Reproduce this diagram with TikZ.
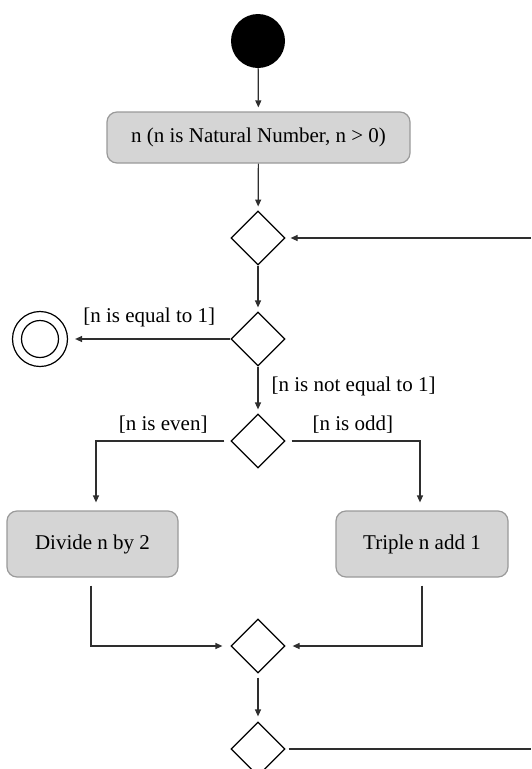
\documentclass[tikz,border=0pt]{standalone}
\usepackage{fontspec}
\setmainfont{Liberation Serif}
\usetikzlibrary{shapes.geometric,arrows.meta}
\definecolor{boxfill}{HTML}{D5D5D5}
\definecolor{boxline}{HTML}{9A9A9A}
\definecolor{flow}{HTML}{2E2E2E}
\begin{document}
\begin{tikzpicture}[x=1pt,y=-1pt,
  every node/.style={font=\fontsize{21}{25}\selectfont},
  action/.style={draw=boxline, fill=boxfill, rounded corners=10pt, line width=1.2pt, inner sep=0pt},
  choice/.style={diamond, draw=black, line width=1.2pt, minimum width=54pt, minimum height=54pt, inner sep=0pt, aspect=1},
  flowline/.style={draw=flow, line width=1.2pt},
  arr/.style={flowline, -{Triangle[length=7pt,width=6pt]}, shorten >=4pt},
  guard/.style={inner sep=0pt}
]
\useasboundingbox (0,0) rectangle (531,769);
\clip (0,0) rectangle (531,769);

% activity nodes
\node[circle, fill=black, minimum size=54pt, inner sep=0pt] (start) at (258,41) {};
\node[action, minimum width=303pt, minimum height=51pt] (init) at (258.5,137.5) {n (n is Natural Number, n > 0)};
\node[choice] (d1) at (258,238) {};
\node[choice] (d2) at (258,339) {};
\node[circle, draw=black, line width=1.2pt, minimum size=55pt, inner sep=0pt] (final) at (40,339) {};
\node[circle, draw=black, line width=1.2pt, minimum size=37pt, inner sep=0pt] (finalin) at (final) {};
\node[choice] (d3) at (258,441) {};
\node[action, minimum width=171pt, minimum height=66pt] (divide) at (92.5,544) {Divide n by 2};
\node[action, minimum width=172pt, minimum height=66pt] (triple) at (422,544) {Triple n add 1};
\node[choice] (d4) at (258,646) {};
\node[choice] (d5) at (258,749) {};

% loop ends running off the right edge
\coordinate (loopin) at (531,238);
\coordinate (loopout) at (531,749);

% control flow
\draw[arr] (start) -- (init);
\draw[arr] (init) -- (d1);
\draw[arr, shorten >=5pt] (loopin) -- (d1);
\draw[arr] (d1) -- (d2);
\draw[arr, shorten >=7pt] (d2) -- node[guard, midway, above=11pt] {[n is equal to 1]} (final);
\draw[arr] (d2) -- node[guard, pos=0.42, right=13pt] {[n is not equal to 1]} (d3);
\draw[arr, shorten <=6pt, shorten >=8pt] (d3.west) -| node[guard, pos=0.25, above=7pt] {[n is even]} ([xshift=3.5pt]divide.north);
\draw[arr, shorten <=6pt, shorten >=8pt] (d3.east) -| node[guard, pos=0.25, above=7pt] {[n is odd]} ([xshift=-2pt]triple.north);
\draw[arr, shorten <=8pt, shorten >=8pt] ([xshift=-1.5pt]divide.south) |- (d4.west);
\draw[arr, shorten <=8pt, shorten >=7pt] (triple.south) |- (d4.east);
\draw[arr, shorten <=4pt, shorten >=5pt] (d4) -- (d5);
\draw[flowline, shorten <=3pt] (d5.east) -- (loopout);
\end{tikzpicture}
\end{document}
